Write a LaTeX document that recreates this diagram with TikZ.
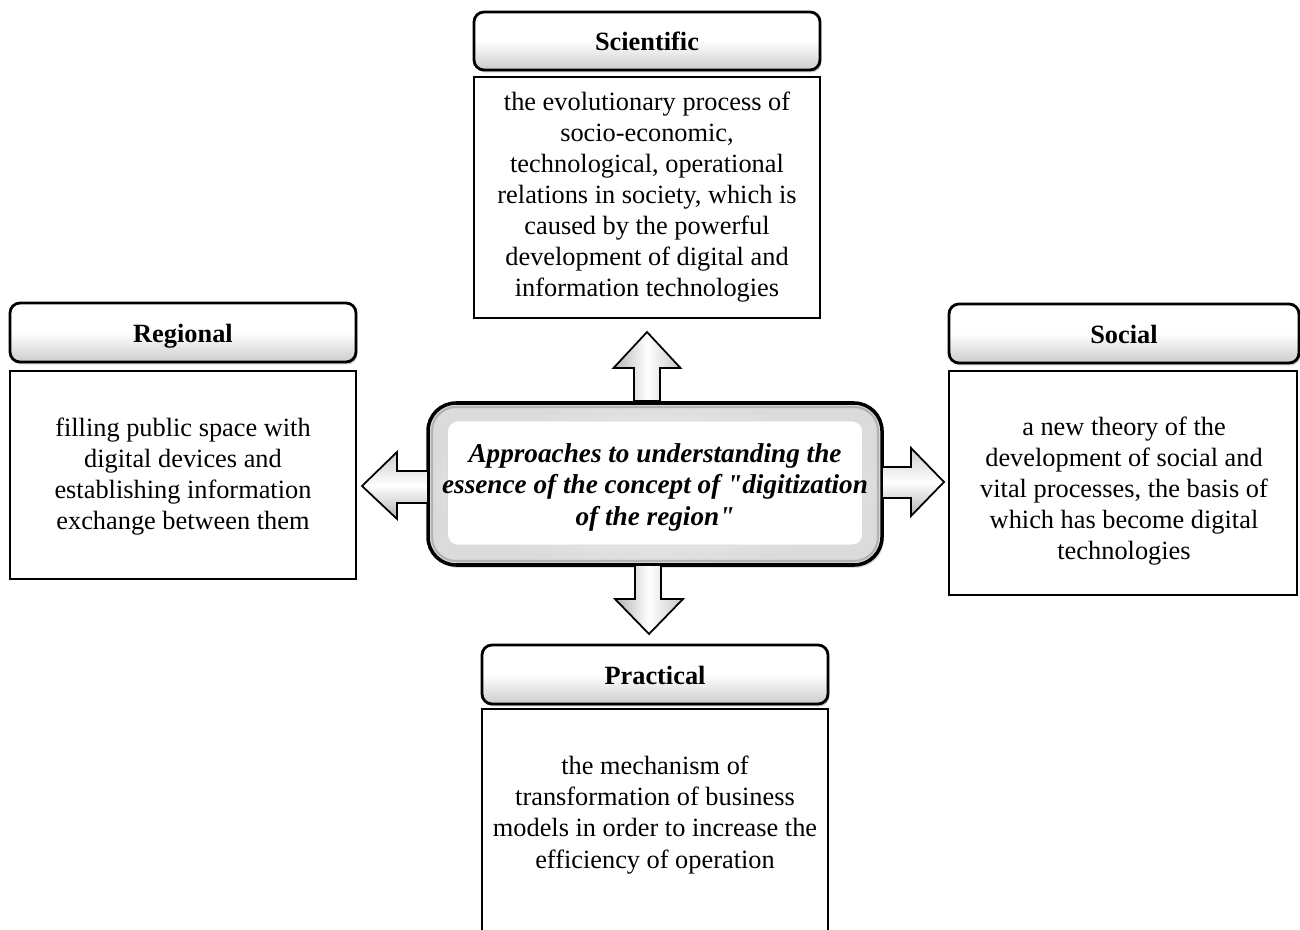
\documentclass[tikz,border=0pt]{standalone}
\usepackage{fontspec}
\setmainfont{Liberation Serif}
\usetikzlibrary{shadows,shadings}
\newcommand\pxu[1]{#1*0.02cm}
\tikzset{
  hdr/.style={draw=black, line width=1.6pt, rounded corners=\pxu{10},
    top color=white, bottom color=gray!40, middle color=white,
    drop shadow={shadow xshift=0.8pt, shadow yshift=-1.4pt, opacity=0.4},
    font=\fontsize{15}{17.4}\selectfont\bfseries, inner sep=0pt,
    text height=13.2pt, text depth=2pt},
  bodybox/.style={draw=black, line width=0.8pt, fill=white,
    drop shadow={shadow xshift=0.6pt, shadow yshift=-0.8pt, opacity=0.3}, inner sep=0pt},
  bodytext/.style={align=center, font=\fontsize{15}{17.7}\selectfont, inner sep=0pt},
  arrowv/.style={draw=black, line width=1pt, line join=miter,
    left color=gray!60, right color=gray!45, middle color=white},
  arrowh/.style={draw=black, line width=1pt, line join=miter,
    top color=gray!40, bottom color=gray!60, middle color=white},
}
\begin{document}
\begin{tikzpicture}[x=0.02cm,y=-0.02cm]
\useasboundingbox (0,0) rectangle (1300,929);
\fill[white] (0,0) rectangle (1300,929);

% Central box
\node[draw=black, line width=2pt, rounded corners=\pxu{28},
  minimum width=\pxu{454}, minimum height=\pxu{162},
  inner color=white, outer color=gray!28,
  drop shadow={shadow xshift=1pt, shadow yshift=-1.5pt, opacity=0.4}] (center) at (655,484) {};
\node[draw=gray!60, line width=1.2pt, rounded corners=\pxu{24},
  minimum width=\pxu{446}, minimum height=\pxu{154}] (centerring) at (655,484) {};
\node[draw=gray!30, line width=0.5pt, rounded corners=\pxu{10}, fill=white,
  minimum width=\pxu{415}, minimum height=\pxu{124}] (centerin) at (655,483) {};
\node[align=center, inner sep=0pt, font=\fontsize{15.5}{17.9}\selectfont\bfseries\itshape] (centertext) at (655,487)
  {Approaches to understanding the\\essence of the concept of \textquotedbl digitization\\of the region\textquotedbl};

% Scientific
\node[hdr, minimum width=\pxu{346}, minimum height=\pxu{58}] (sci) at (647,41) {Scientific};
\node[bodybox, minimum width=\pxu{346}, minimum height=\pxu{241}] (scibox) at (647,197.5) {};
\node[bodytext] (scitext) at (647,197)
  {the evolutionary process of\\socio-economic,\\technological, operational\\relations in society, which is\\caused by the powerful\\development of digital and\\information technologies};

% Regional
\node[hdr, minimum width=\pxu{346}, minimum height=\pxu{59}] (reg) at (183,332.5) {Regional};
\node[bodybox, minimum width=\pxu{346}, minimum height=\pxu{208}] (regbox) at (183,475) {};
\node[bodytext] (regtext) at (183,476.5)
  {filling public space with\\digital devices and\\establishing information\\exchange between them};

% Social
\node[hdr, minimum width=\pxu{350}, minimum height=\pxu{59}] (soc) at (1124,333.5) {Social};
\node[bodybox, minimum width=\pxu{348}, minimum height=\pxu{224}] (socbox) at (1123,483) {};
\node[bodytext] (soctext) at (1124,491)
  {a new theory of the\\development of social and\\vital processes, the basis of\\which has become digital\\technologies};

% Practical
\node[hdr, minimum width=\pxu{346}, minimum height=\pxu{59}] (pra) at (655,674.5) {Practical};
\node[bodybox, minimum width=\pxu{346}, minimum height=\pxu{250}] (prabox) at (655,834) {};
\node[bodytext] (pratext) at (655,815)
  {the mechanism of\\transformation of business\\models in order to increase the\\efficiency of operation};

% Block arrows
\draw[arrowv] (634,401) -- (634,368) -- (613.5,368) -- (647,332) -- (680.5,368) -- (660,368) -- (660,401) -- cycle;
\draw[arrowv] (635,565) -- (635,599) -- (615,599) -- (649,634) -- (683,599) -- (661,599) -- (661,565) -- cycle;
\draw[arrowh] (428,471) -- (397,471) -- (397,452) -- (362,486) -- (397,519) -- (397,503) -- (428,503) -- cycle;
\draw[arrowh] (882,467) -- (911,467) -- (911,448) -- (944,482) -- (911,516) -- (911,498) -- (882,498) -- cycle;
\end{tikzpicture}
\end{document}
